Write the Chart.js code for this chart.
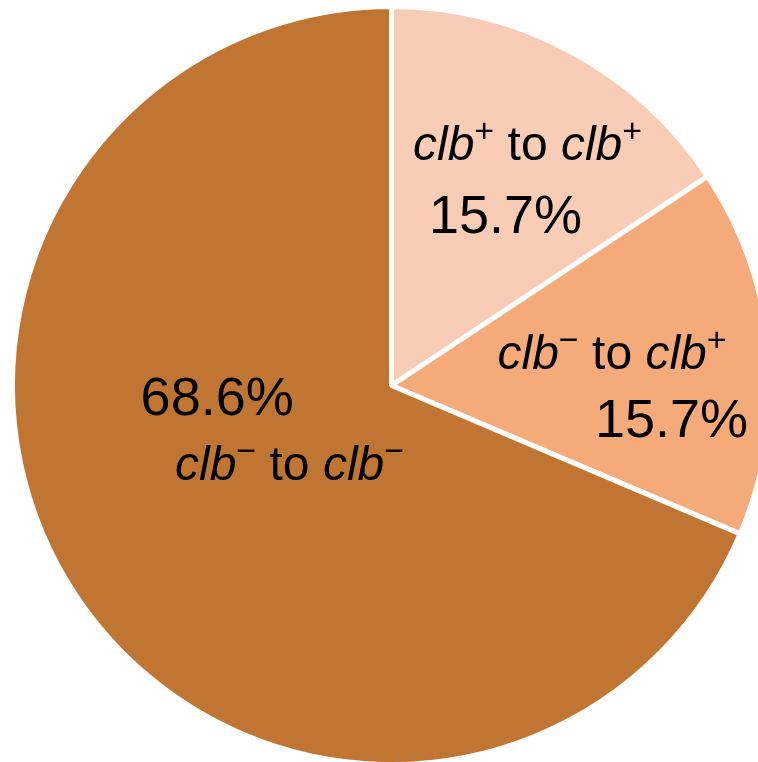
<!DOCTYPE html>
<html>
<head>
<meta charset="utf-8">
<script src="https://cdn.jsdelivr.net/npm/chart.js@4"></script>
<style>
  html, body { margin: 0; padding: 0; overflow: hidden; background: #fff; width: 758px; height: 762px; }
  #wrap { position: absolute; left: 10px; top: 4px; width: 763px; height: 763px; }
</style>
</head>
<body>
<div id="wrap"><canvas id="pieChart"></canvas></div>
<script>
// slice data, clockwise from 12 o'clock
const categories = ['clb+ to clb+', 'clb\u2212 to clb+', 'clb\u2212 to clb\u2212'];
const shares = [15.7, 15.7, 68.6];
// superscript signs for "from" and "to" in each category
const fromSign = ['+', '\u2212', '\u2212'];
const toSign = ['+', '+', '\u2212'];

const colors = ['#F8CCB5', '#F5AA7A', '#C17533'];

// label spots, relative to pie centre in units of radius (baseline, centred)
const namePos = [[0.359, -0.596], [0.582, -0.043], [-0.269, 0.250]];
const pctPos = [[0.301, -0.402], [0.739, 0.136], [-0.460, 0.077]];

const FONT = '"Liberation Sans", Arial, Helvetica, sans-serif';

function drawRich(ctx, parts, cx, y) {
  let total = 0;
  parts.forEach(p => {
    ctx.font = p.font;
    p.w = ctx.measureText(p.t).width;
    total += p.w;
  });
  let x = cx - total / 2;
  parts.forEach(p => {
    ctx.font = p.font;
    ctx.fillText(p.t, x, y + (p.dy || 0));
    x += p.w;
  });
}

const sliceLabels = {
  id: 'sliceLabels',
  afterDatasetsDraw(chart) {
    const ctx = chart.ctx;
    const meta = chart.getDatasetMeta(0);
    ctx.save();
    ctx.fillStyle = '#000';
    ctx.textBaseline = 'alphabetic';
    ctx.textAlign = 'left';
    meta.data.forEach((arc, i) => {
      const r = arc.outerRadius;
      const it = 'italic 48px ' + FONT;
      const up = '34px ' + FONT;
      const norm = '48px ' + FONT;
      const parts = [
        { t: 'clb', font: it },
        { t: fromSign[i], font: up, dy: -18 },
        { t: ' to ', font: norm },
        { t: 'clb', font: it },
        { t: toSign[i], font: up, dy: -18 }
      ];
      drawRich(ctx, parts, arc.x + namePos[i][0] * r, arc.y + namePos[i][1] * r);
      const v = chart.data.datasets[0].data[i];
      drawRich(ctx, [{ t: v.toFixed(1) + '%', font: '54px ' + FONT }],
        arc.x + pctPos[i][0] * r, arc.y + pctPos[i][1] * r);
    });
    ctx.restore();
  }
};

const chart = new Chart(document.getElementById('pieChart'), {
  type: 'pie',
  data: {
    labels: categories,
    datasets: [{
      data: shares,
      backgroundColor: colors,
      borderColor: '#ffffff',
      borderWidth: 5
    }]
  },
  options: {
    responsive: true,
    maintainAspectRatio: false,
    animation: false,
    layout: { padding: 0 },
    plugins: {
      legend: { display: false },
      tooltip: { enabled: false }
    }
  },
  plugins: [sliceLabels]
});
</script>
</body>
</html>
